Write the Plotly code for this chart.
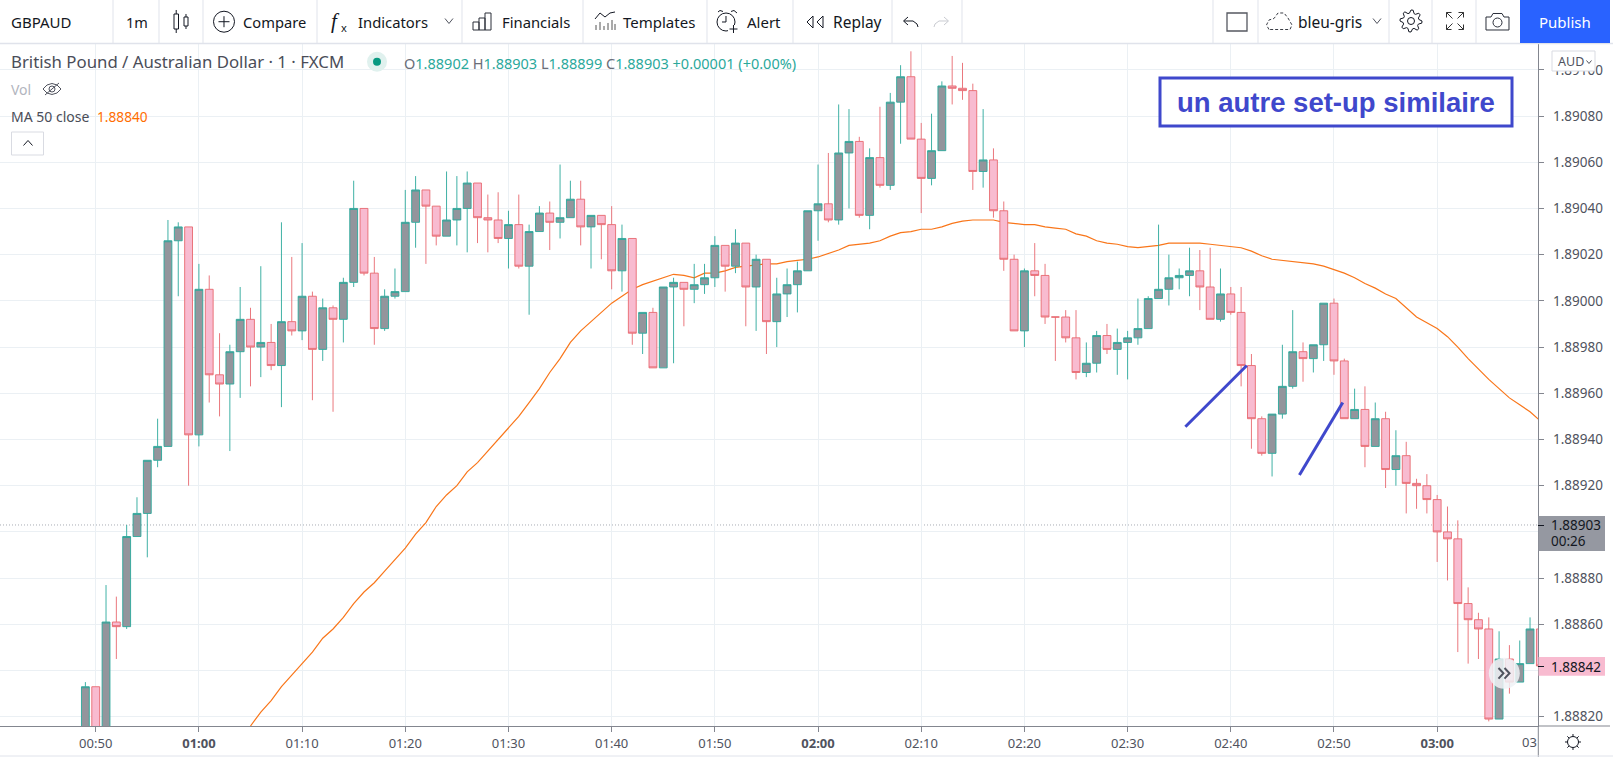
import numpy as np
import pandas as pd
import plotly.graph_objects as go

W, H = 1613, 757

# candles, one per minute from 00:49
first_candle = "2021-01-01 00:49"
opens = [1.88810, 1.88833, 1.88810, 1.88861, 1.88859, 1.88898, 1.88908, 1.88931, 1.88937, 1.89026, 1.89032, 1.88942,
         1.89005, 1.88968, 1.88964, 1.88978, 1.88992, 1.88980, 1.88982, 1.88972, 1.88991, 1.88987, 1.89002, 1.88979,
         1.88997, 1.88992, 1.89008, 1.89040, 1.89012, 1.88988, 1.89002, 1.89004, 1.89034, 1.89048, 1.89041, 1.89028,
         1.89035, 1.89040, 1.89051, 1.89036, 1.89035, 1.89027, 1.89033, 1.89015, 1.89030, 1.89038, 1.89034, 1.89036,
         1.89044, 1.89032, 1.89037, 1.89033, 1.89013, 1.89027, 1.88986, 1.88995, 1.88971, 1.89006, 1.89008, 1.89005,
         1.89007, 1.89010, 1.89024, 1.89015, 1.89025, 1.89006, 1.89018, 1.88991, 1.89003, 1.89007, 1.89013, 1.89039,
         1.89042, 1.89035, 1.89064, 1.89069, 1.89037, 1.89062, 1.89050, 1.89086, 1.89097, 1.89070, 1.89053, 1.89065,
         1.89093, 1.89092, 1.89091, 1.89056, 1.89061, 1.89039, 1.89018, 1.88987, 1.89013, 1.89011, 1.88993, 1.88993,
         1.88984, 1.88969, 1.88973, 1.88985, 1.88979, 1.88982, 1.88984, 1.88988, 1.89001, 1.89005, 1.89010, 1.89011,
         1.89013, 1.89006, 1.88992, 1.89003, 1.88995, 1.88972, 1.88949, 1.88934, 1.88951, 1.88963, 1.88978, 1.88975,
         1.88981, 1.88999, 1.88974, 1.88949, 1.88953, 1.88937, 1.88949, 1.88927, 1.88933, 1.88921, 1.88920, 1.88914,
         1.88900, 1.88897, 1.88869, 1.88862, 1.88858, 1.88819, 1.88845, 1.88835, 1.88843, 1.88858]
highs = [1.88835, 1.88833, 1.88877, 1.88872, 1.88903, 1.88915, 1.88931, 1.88949, 1.89035, 1.89034, 1.89032, 1.89016,
         1.89011, 1.88986, 1.88981, 1.89006, 1.88997, 1.89015, 1.88990, 1.89034, 1.89019, 1.89025, 1.89004, 1.89001,
         1.88998, 1.89010, 1.89052, 1.89040, 1.89019, 1.89005, 1.89014, 1.89048, 1.89054, 1.89048, 1.89041, 1.89056,
         1.89054, 1.89056, 1.89051, 1.89046, 1.89047, 1.89039, 1.89046, 1.89033, 1.89041, 1.89043, 1.89059, 1.89052,
         1.89052, 1.89037, 1.89037, 1.89041, 1.89033, 1.89027, 1.88995, 1.88997, 1.89006, 1.89010, 1.89008, 1.89016,
         1.89016, 1.89028, 1.89024, 1.89031, 1.89025, 1.89020, 1.89018, 1.89010, 1.89014, 1.89017, 1.89039, 1.89059,
         1.89064, 1.89085, 1.89083, 1.89071, 1.89066, 1.89084, 1.89090, 1.89102, 1.89108, 1.89077, 1.89081, 1.89095,
         1.89106, 1.89103, 1.89094, 1.89083, 1.89066, 1.89043, 1.89020, 1.89014, 1.89025, 1.89016, 1.88993, 1.88996,
         1.88996, 1.88982, 1.88987, 1.88990, 1.88988, 1.88987, 1.89001, 1.89002, 1.89033, 1.89020, 1.89014, 1.89023,
         1.89022, 1.89023, 1.89014, 1.89006, 1.89006, 1.88977, 1.88950, 1.88951, 1.88981, 1.88996, 1.88982, 1.88981,
         1.88999, 1.89001, 1.88975, 1.88962, 1.88963, 1.88956, 1.88952, 1.88944, 1.88939, 1.88923, 1.88925, 1.88916,
         1.88911, 1.88905, 1.88876, 1.88865, 1.88863, 1.88857, 1.88851, 1.88853, 1.88863, 1.88858]
lows = [1.88805, 1.88805, 1.88805, 1.88845, 1.88858, 1.88898, 1.88889, 1.88928, 1.88937, 1.89002, 1.88920, 1.88937,
        1.88956, 1.88950, 1.88935, 1.88958, 1.88963, 1.88967, 1.88970, 1.88954, 1.88985, 1.88983, 1.88957, 1.88974,
        1.88952, 1.88982, 1.89006, 1.89011, 1.88981, 1.88987, 1.89001, 1.89004, 1.89023, 1.89016, 1.89024, 1.89028,
        1.89024, 1.89021, 1.89025, 1.89021, 1.89025, 1.89014, 1.89014, 1.88994, 1.89030, 1.89022, 1.89027, 1.89036,
        1.89024, 1.89014, 1.89018, 1.89005, 1.89004, 1.88981, 1.88977, 1.88971, 1.88971, 1.88973, 1.88989, 1.88999,
        1.89003, 1.89006, 1.89004, 1.89012, 1.88989, 1.88987, 1.88977, 1.88980, 1.88993, 1.88995, 1.89013, 1.89026,
        1.89034, 1.89033, 1.89040, 1.89036, 1.89031, 1.89049, 1.89048, 1.89068, 1.89070, 1.89038, 1.89050, 1.89065,
        1.89085, 1.89087, 1.89048, 1.89049, 1.89036, 1.89013, 1.88987, 1.88980, 1.89002, 1.88990, 1.88974, 1.88982,
        1.88966, 1.88967, 1.88969, 1.88977, 1.88968, 1.88966, 1.88981, 1.88988, 1.89001, 1.88998, 1.89005, 1.89002,
        1.88996, 1.88992, 1.88991, 1.88994, 1.88963, 1.88936, 1.88933, 1.88924, 1.88949, 1.88962, 1.88965, 1.88969,
        1.88974, 1.88968, 1.88949, 1.88949, 1.88928, 1.88937, 1.88919, 1.88920, 1.88908, 1.88910, 1.88908, 1.88887,
        1.88879, 1.88848, 1.88843, 1.88845, 1.88818, 1.88819, 1.88830, 1.88835, 1.88843, 1.88842]
closes = [1.88833, 1.88810, 1.88861, 1.88859, 1.88898, 1.88908, 1.88931, 1.88937, 1.89026, 1.89032, 1.88942, 1.89005,
          1.88968, 1.88964, 1.88978, 1.88992, 1.88980, 1.88982, 1.88972, 1.88991, 1.88987, 1.89002, 1.88979, 1.88997,
          1.88992, 1.89008, 1.89040, 1.89012, 1.88988, 1.89002, 1.89004, 1.89034, 1.89048, 1.89041, 1.89028, 1.89035,
          1.89040, 1.89051, 1.89036, 1.89035, 1.89027, 1.89033, 1.89015, 1.89030, 1.89038, 1.89034, 1.89036, 1.89044,
          1.89032, 1.89037, 1.89033, 1.89013, 1.89027, 1.88986, 1.88995, 1.88971, 1.89006, 1.89008, 1.89005, 1.89007,
          1.89010, 1.89024, 1.89015, 1.89025, 1.89006, 1.89018, 1.88991, 1.89003, 1.89007, 1.89013, 1.89039, 1.89042,
          1.89035, 1.89064, 1.89069, 1.89037, 1.89062, 1.89050, 1.89086, 1.89097, 1.89070, 1.89053, 1.89065, 1.89093,
          1.89092, 1.89091, 1.89056, 1.89061, 1.89039, 1.89018, 1.88987, 1.89013, 1.89011, 1.88993, 1.88993, 1.88984,
          1.88969, 1.88973, 1.88985, 1.88979, 1.88982, 1.88984, 1.88988, 1.89001, 1.89005, 1.89010, 1.89011, 1.89013,
          1.89006, 1.88992, 1.89003, 1.88995, 1.88972, 1.88949, 1.88934, 1.88951, 1.88963, 1.88978, 1.88975, 1.88981,
          1.88999, 1.88974, 1.88949, 1.88953, 1.88937, 1.88949, 1.88927, 1.88933, 1.88921, 1.88920, 1.88914, 1.88900,
          1.88897, 1.88869, 1.88862, 1.88858, 1.88819, 1.88845, 1.88835, 1.88843, 1.88858, 1.88842]

# moving average, one value per minute from 01:05
ma_first = "2021-01-01 01:05"
ma_values = [1.88816, 1.88822, 1.88827, 1.88833, 1.88838, 1.88843, 1.88848, 1.88854, 1.88858, 1.88863, 1.88869, 1.88874,
             1.88878, 1.88883, 1.88888, 1.88893, 1.88899, 1.88904, 1.88911, 1.88916, 1.88920, 1.88926, 1.88930, 1.88935,
             1.88940, 1.88945, 1.88950, 1.88956, 1.88962, 1.88969, 1.88975, 1.88982, 1.88987, 1.88991, 1.88995, 1.88999,
             1.89002, 1.89005, 1.89007, 1.890085, 1.89010, 1.890115, 1.89011, 1.89010, 1.89012, 1.89012, 1.89013,
             1.890145, 1.89015, 1.890155, 1.89016, 1.89016, 1.89017, 1.890175, 1.89018, 1.89019, 1.890205, 1.89022,
             1.89024, 1.890245, 1.89025, 1.89026, 1.89028, 1.890295, 1.89030, 1.89031, 1.89031, 1.89032, 1.890335,
             1.890345, 1.89035, 1.89035, 1.89035, 1.89034, 1.890335, 1.89033, 1.89033, 1.89032, 1.890315, 1.89031,
             1.89029, 1.89028, 1.89026, 1.89025, 1.890245, 1.890235, 1.89023, 1.890235, 1.89024, 1.89025, 1.89025,
             1.89025, 1.89025, 1.890245, 1.89024, 1.890235, 1.89023, 1.890215, 1.890195, 1.89018, 1.890175, 1.89017,
             1.890165, 1.89016, 1.89015, 1.890135, 1.89012, 1.89010, 1.890075, 1.890055, 1.89003, 1.89001, 1.88997,
             1.88993, 1.889905, 1.88988, 1.889845, 1.88980, 1.88975, 1.889705, 1.88966, 1.88962, 1.88958, 1.88955,
             1.88952, 1.88948]

# the two hand drawn lines
trend_one_times = ["2021-01-01 02:35:36", "2021-01-01 02:41:33"]
trend_one_prices = [1.889455, 1.88972]
trend_two_times = ["2021-01-01 02:46:39", "2021-01-01 02:50:51"]
trend_two_prices = [1.889246, 1.88956]

time_ticks = pd.date_range("2021-01-01 00:50", "2021-01-01 03:00", freq="10min")
time_labels = ["00:50", "<b>01:00</b>", "01:10", "01:20", "01:30", "01:40", "01:50", "<b>02:00</b>", "02:10", "02:20",
               "02:30", "02:40", "02:50", "<b>03:00</b>"]
price_ticks = [1.88820, 1.88840, 1.88860, 1.88880, 1.88900, 1.88920, 1.88940, 1.88960, 1.88980, 1.89000, 1.89020,
               1.89040, 1.89060, 1.89080, 1.89100]
# 1.88840 and 1.88900 sit under the price tags
price_labels = ["1.88820", "", "1.88860", "1.88880", "", "1.88920", "1.88940", "1.88960", "1.88980", "1.89000",
                "1.89020", "1.89040", "1.89060", "1.89080", "1.89100"]

FONT = "Noto Sans"
TEAL = "#2aa89b"
RED = "#e8696f"
BLUE = "#3f48cc"
ORANGE = "#f9761a"
GRID = "#ebf0f4"
DARK = "#131722"
GREY = "#50535e"
BORDER = "#e0e3eb"
AXIS = "#83868f"

shapes = []
annotations = []


def px(x):
    return x / W


def py(y):
    return 1 - y / H


def text(x, y, s, color=DARK, size=14, anchor="left", family=FONT):
    annotations.append(dict(x=px(x), y=py(y), xref="paper", yref="paper", text=s, showarrow=False, xanchor=anchor,
                            yanchor="middle", borderpad=0, borderwidth=0,
                            font=dict(family=family, size=size, color=color)))


def rect(x0, y0, x1, y1, fill=None, line=None, width=1):
    shapes.append(dict(type="rect", xref="paper", yref="paper", x0=px(x0), x1=px(x1), y0=py(y0), y1=py(y1),
                       fillcolor=fill or "rgba(0,0,0,0)", line=dict(color=line or "rgba(0,0,0,0)",
                                                                    width=width if line else 0), layer="above"))


def circle(cx, cy, r, fill=None, line=None, width=1):
    shapes.append(dict(type="circle", xref="paper", yref="paper", x0=px(cx - r), x1=px(cx + r), y0=py(cy - r),
                       y1=py(cy + r), fillcolor=fill or "rgba(0,0,0,0)",
                       line=dict(color=line or "rgba(0,0,0,0)", width=width if line else 0), layer="above"))


def poly(points, color=DARK, width=1, dash="solid", close=False, fill=None):
    d = "M " + " L ".join(f"{px(x):.5f},{py(y):.5f}" for x, y in points)
    if close:
        d += " Z"
    shapes.append(dict(type="path", xref="paper", yref="paper", path=d, fillcolor=fill or "rgba(0,0,0,0)",
                       line=dict(color=color, width=width, dash=dash), layer="above"))


def chevron(cx, cy, w=4, h=2.5, color=GREY, up=False):
    s = -1 if up else 1
    poly([(cx - w, cy - s * h), (cx, cy + s * h), (cx + w, cy - s * h)], color=color, width=1)


def gear(cx, cy, r_out, r_in, teeth=8, color=DARK):
    pts = []
    for i in range(teeth * 4):
        a = 2 * np.pi * i / (teeth * 4)
        r = r_out if i % 4 in (0, 1) else r_in
        pts.append((cx + r * np.cos(a), cy + r * np.sin(a)))
    poly(pts, color=color, close=True)


fig = go.Figure()

# MA on the main axes so it stays under the candles
fig.add_trace(go.Scatter(x=pd.date_range(ma_first, periods=len(ma_values), freq="min"), y=ma_values, mode="lines",
                         line=dict(color=ORANGE, width=1.2), hoverinfo="skip"))

fig.add_trace(go.Candlestick(x=pd.date_range(first_candle, periods=len(opens), freq="min"), open=opens, high=highs,
                             low=lows, close=closes, yaxis="y2",
                             increasing=dict(line=dict(color=TEAL, width=0.9), fillcolor="#93959c"),
                             decreasing=dict(line=dict(color=RED, width=0.9), fillcolor="#f8bbd0")))

fig.add_trace(go.Scatter(x=trend_one_times, y=trend_one_prices, mode="lines", yaxis="y2",
                         line=dict(color=BLUE, width=3), hoverinfo="skip"))
fig.add_trace(go.Scatter(x=trend_two_times, y=trend_two_prices, mode="lines", yaxis="y2",
                         line=dict(color=BLUE, width=3), hoverinfo="skip"))

# last price dotted line
shapes.append(dict(type="line", xref="paper", yref="y", x0=0, x1=px(1538), y0=1.88903, y1=1.88903, layer="below",
                   line=dict(color="#a9acb4", width=1, dash="1px,2px")))

# toolbar
rect(0, 0, W, 43, fill="white")
poly([(0, 43.5), (W, 43.5)], color=BORDER, width=1.5)
for sep_x in [113, 159, 203, 317, 462, 583, 707, 793, 892, 962, 1213, 1258, 1389, 1432, 1476]:
    poly([(sep_x, 0), (sep_x, 43)], color=BORDER, width=1)
rect(1520, 0, 1610, 43, fill="#2962ff")

text(11, 21.5, "GBPAUD", size=15, color="#131722")
text(137, 21.5, "1m", size=14.5, anchor="center")
text(243, 21.5, "Compare", size=14.7)
text(358, 21.5, "Indicators", size=14.8)
text(502, 21.5, "Financials", size=14.8)
text(623, 21.5, "Templates", size=15)
text(747, 21.5, "Alert", size=15)
text(833, 21.5, "Replay", size=15.5)
text(1298, 21.5, "bleu-gris", size=15.5)
text(1565, 21.5, "Publish", color="white", size=15, anchor="center")

# toolbar icons
rect(174, 14, 178.5, 29, line=DARK)
poly([(176.2, 10), (176.2, 14)])
poly([(176.2, 29), (176.2, 33)])
rect(184, 17, 188, 26, line=DARK)
poly([(186, 14), (186, 17)])
poly([(186, 26), (186, 29)])
circle(224, 21.7, 10.5, line=DARK)
poly([(218.5, 21.7), (229.5, 21.7)])
poly([(224, 16.2), (224, 27.2)])
text(331, 21, "<i>f</i>", size=21, family="Liberation Serif")
text(341, 27, "x", size=11)
chevron(449, 21)
for bx0, bx1, by0 in [(473, 479, 22), (479, 485, 18), (485, 491, 13)]:
    rect(bx0, by0, bx1, 30, line="#2a2e39")
poly([(595, 19), (600, 13), (605, 17), (610, 13), (615, 12)])
for bar_x, bar_y in [(596, 25), (600, 22), (604, 26), (608, 23), (612, 20), (615, 24)]:
    poly([(bar_x, bar_y), (bar_x, 30)], color="#555", width=1)
circle(726, 22, 9, line=DARK)
poly([(726, 16), (726, 22), (722, 22)])
poly([(718, 12), (720, 10.5), (723, 11.5)])
poly([(731, 11.5), (734, 10.5), (737, 13)])
rect(728, 25, 739, 34, fill="white")
poly([(733.5, 25), (733.5, 33)])
poly([(729.5, 29), (737.5, 29)])
poly([(813, 16), (807, 22), (813, 28)], close=True)
poly([(823, 16), (817, 22), (823, 28)], close=True)
poly([(908, 17), (903.5, 21), (908, 25)])
poly([(904, 21), (913, 21), (917, 24), (918, 27)])
poly([(944, 17), (948.5, 21), (944, 25)], color="#c9cbd1")
poly([(948, 21), (939, 21), (935, 24), (934, 27)], color="#c9cbd1")
shapes.append(dict(type="rect", xref="paper", yref="paper", x0=px(1227), x1=px(1247), y0=py(13), y1=py(31),
                   line=dict(color="#555860", width=1.3), layer="above"))
poly([(1269, 29.5), (1266.5, 25), (1269, 20), (1274, 18.5), (1278, 13), (1284, 13), (1288, 18), (1292, 25), (1290, 29.5)],
     close=True, dash="3px,2px", color="#3a3d45")
chevron(1377, 21)
gear(1411, 21, 11, 8)
circle(1411, 21, 3.5, line=DARK)
for sx, sy in [(-1, -1), (1, -1), (-1, 1), (1, 1)]:
    ax, ay = 1455 + sx * 8.5, 21 + sy * 8.5
    poly([(ax, ay), (ax - sx * 6, ay - sy * 6)], color="#333")
    poly([(ax - sx * 5, ay), (ax, ay), (ax, ay - sy * 5)], color="#333")
poly([(1486, 17), (1491, 17), (1493, 13.5), (1502, 13.5), (1504, 17), (1509, 17), (1509, 30), (1486, 30)], close=True,
     color="#2a2e39")
circle(1497.5, 22.5, 4.5, line="#2a2e39")

# legend block over the chart
text(11, 61.5, "British Pound / Australian Dollar · 1 · FXCM", color="#4a4d58", size=16.8)
circle(377, 61.7, 10, fill="#e0f1ee")
circle(377, 61.7, 4, fill="#089981")
vals = f"<span style='color:{TEAL}'>"
text(404, 63, "O" + vals + "1.88902</span> H" + vals + "1.88903</span> L" + vals + "1.88899</span> C" + vals
     + "1.88903</span> " + vals + "+0.00001 (+0.00%)</span>", color="#6a6d78", size=14.5)
text(11, 89, "Vol", color="#b2b5be", size=14)
poly([(43, 89), (47, 85), (52, 83.5), (57, 85), (61, 89), (57, 93), (52, 94.5), (47, 93)], close=True, color="#50535e")
circle(52, 89, 3, line="#50535e")
poly([(45, 95), (59, 83)], color="#50535e")
text(11, 116, "MA 50 close", color="#4a4d58", size=14)
text(97, 116, "1.88840", color="#ff6d00", size=13.7)
rect(11.5, 132, 43.5, 155, fill="white", line="#d9dbe2")
chevron(28, 143, w=4.5, h=2.5, color=DARK, up=True)

# note box
rect(1160, 78, 1512, 126, fill="white", line=BLUE, width=3)
text(1336, 102, "<b>un autre set-up similaire</b>", color=BLUE, size=27.5, anchor="center", family="Liberation Sans")

# right scale dressing
rect(1552, 51, 1595, 71, fill="white", line="#d9dbe2")
text(1558, 62, "AUD", color=GREY, size=12.5)
chevron(1589, 62, w=2.5, h=1.5)
rect(1538.5, 516, 1605, 551, fill="#9598a1")
text(1551, 525, "1.88903", color=DARK, size=13.5)
text(1551, 541, "00:26", color=DARK, size=13.5)
poly([(1538, 525.5), (1544, 525.5)], color=DARK)
rect(1538.5, 657, 1605, 675.7, fill="#f8bbd0")
text(1551, 666.5, "1.88842", color=DARK, size=13.5)
poly([(1538, 666.5), (1544, 666.5)], color=DARK)

# scroll button
circle(1504.3, 673.3, 15.5, fill="rgba(240,242,246,0.85)")
poly([(1498.5, 668), (1503.5, 673.3), (1498.5, 678.6)], color=GREY, width=2)
poly([(1504.5, 668), (1509.5, 673.3), (1504.5, 678.6)], color=GREY, width=2)

# bottom strip
text(1537, 742, "03", color=GREY, size=13, anchor="right")
poly([(1538.3, 726), (1610, 726)], color=AXIS)
poly([(1538.3, 726), (1538.3, H)], color=AXIS)
poly([(0, 756), (W, 756)], color=BORDER, width=1)
circle(1573, 742, 5.5, line=DARK)
for k in range(8):
    a = k * np.pi / 4
    poly([(1573 + 5.5 * np.cos(a), 742 + 5.5 * np.sin(a)), (1573 + 8 * np.cos(a), 742 + 8 * np.sin(a))])

price_range = [1.88816, 1.891116]
fig.update_layout(
    width=W, height=H, margin=dict(l=0, r=0, t=0, b=0), paper_bgcolor="white", plot_bgcolor="white",
    showlegend=False, boxgap=0.24, boxgroupgap=0, shapes=shapes, annotations=annotations, hovermode=False,
    font=dict(family=FONT, size=13, color=GREY),
    xaxis=dict(domain=[0, px(1538.3)], range=["2021-01-01 00:40:43.5", "2021-01-01 03:09:48"], tickmode="array",
               tickvals=time_ticks, ticktext=time_labels, showgrid=True, gridcolor=GRID, gridwidth=1,
               showline=True, linecolor=AXIS, linewidth=1, ticks="outside", ticklen=5, tickcolor=AXIS,
               rangeslider=dict(visible=False), zeroline=False, tickfont=dict(color=GREY, size=13), tickangle=0),
    yaxis=dict(domain=[py(726), py(43)], range=price_range, side="right", tickmode="array", tickvals=price_ticks,
               ticktext=price_labels, showgrid=True, gridcolor=GRID, gridwidth=1, showline=True, linecolor=AXIS,
               linewidth=1, ticks="outside", ticklen=5, tickcolor=AXIS, zeroline=False,
               tickfont=dict(color=GREY, size=13.5), ticklabelstandoff=6),
    yaxis2=dict(overlaying="y", range=price_range, visible=False, side="right"),
)

fig.write_html("out.html", config={"displayModeBar": False},
               post_script="document.body.style.margin='0';document.body.style.overflow='hidden';")
